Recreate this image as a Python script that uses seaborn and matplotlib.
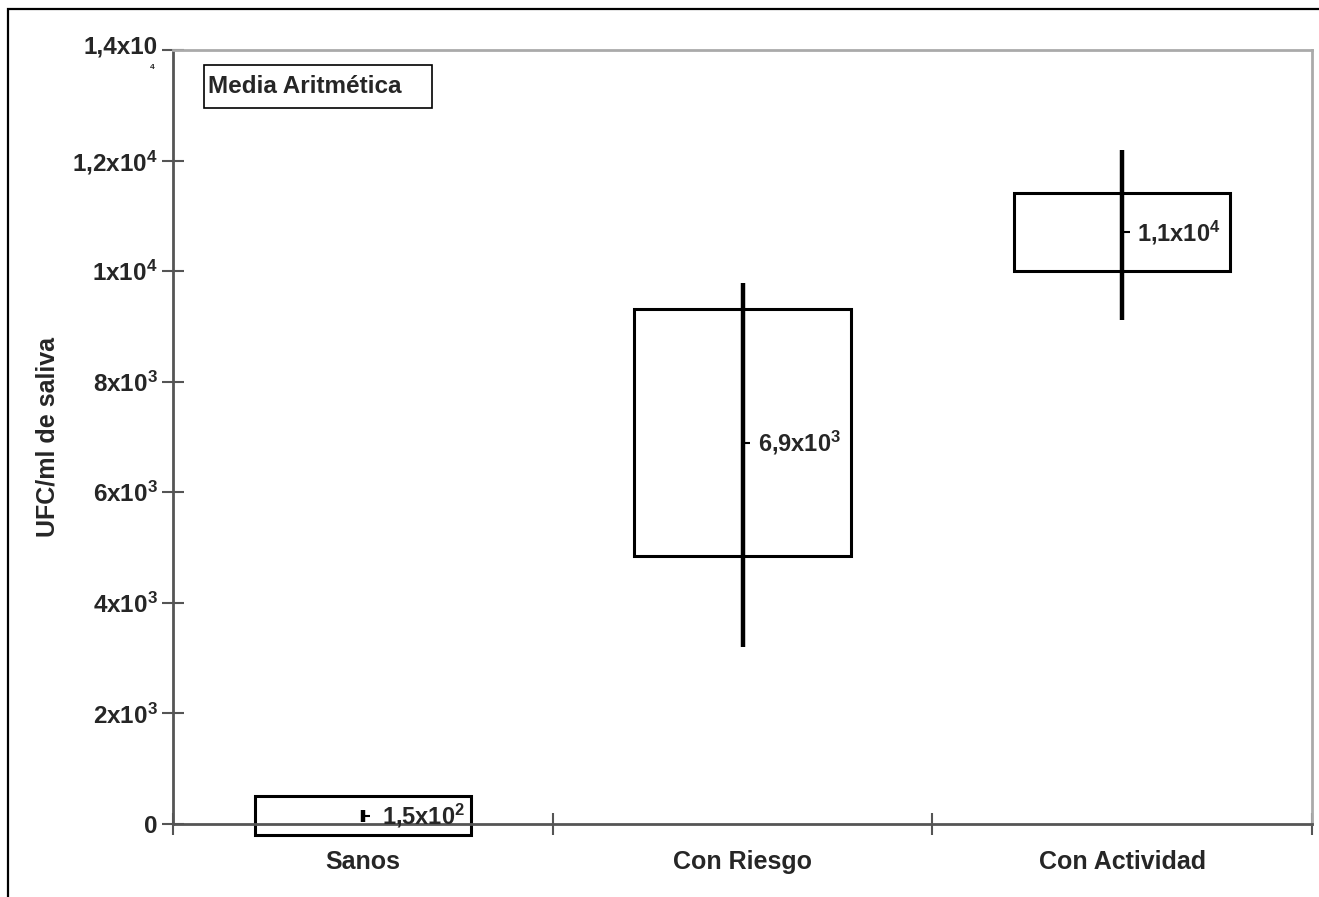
import numpy as np
import matplotlib
matplotlib.use("Agg")
import matplotlib.pyplot as plt
from matplotlib.patches import Rectangle
from matplotlib.transforms import ScaledTranslation
import seaborn as sns

categories = ["Sanos", "Con Riesgo", "Con Actividad"]
means = [150, 6900, 10700]
box_low = [-200, 4850, 10000]
box_high = [510, 9310, 11410]
range_low = [40, 3200, 9110]
range_high = [250, 9780, 12190]
value_labels = ["1,5x10$^{2}$", "6,9x10$^{3}$", "1,1x10$^{4}$"]
ytick_values = [0, 2000, 4000, 6000, 8000, 10000, 12000, 14000]
ytick_labels = ["0", "2x10$^{3}$", "4x10$^{3}$", "6x10$^{3}$", "8x10$^{3}$",
                "1x10$^{4}$", "1,2x10$^{4}$", "1,4x10"]
ylabel = "UFC/ml de saliva"
legend_text = "Media Aritmética"

sns.set_style("white")
plt.rcParams["font.family"] = ["Liberation Sans", "DejaVu Sans"]
plt.rcParams["font.weight"] = "bold"
plt.rcParams["mathtext.fontset"] = "custom"
plt.rcParams["mathtext.rm"] = "Liberation Sans"
plt.rcParams["mathtext.bf"] = "Liberation Sans:bold"
plt.rcParams["mathtext.default"] = "rm"

fig = plt.figure(figsize=(13.19, 8.97), dpi=100)
ax = fig.add_axes([173/1319, 1-824/897, (1312-173)/1319, (824-50)/897])

heights = [h - l for h, l in zip(box_high, box_low)]
sns.barplot(x=categories, y=heights, bottom=box_low, fill=False, color="black",
            linewidth=2.2, width=0.57, errorbar=None, ax=ax)
for p in ax.patches:
    p.set_clip_on(False)

xs = np.arange(len(categories))
ax.vlines(xs, range_low, range_high, color="black", linewidth=3.2, zorder=4)
ax.plot(xs + 0.012, means, linestyle="none", marker="_", markersize=5,
        markeredgewidth=1.5, color="black", zorder=5)
offsets = [14, 11, 11]
for x, m, lab, off in zip(xs, means, value_labels, offsets):
    ax.annotate(lab, (x, m), xytext=(off, 0), textcoords="offset points",
                ha="left", va="center", fontsize=17, fontweight="bold",
                annotation_clip=False, zorder=6)

ax.set_xlim(-0.5, len(categories) - 0.5)
ax.set_ylim(0, 14000)
ax.set_yticks(ytick_values)
ax.set_yticklabels(ytick_labels, fontsize=17.5, fontweight="bold")
ax.set_xticks(xs)
ax.set_xticklabels(categories, fontsize=18, fontweight="bold")
ax.set_xticks(np.arange(len(categories) + 1) - 0.5, minor=True)
ax.tick_params(axis="both", which="both", left=True, bottom=True)
ax.tick_params(axis="x", which="major", length=0, pad=19)
ax.tick_params(axis="x", which="minor", length=16, direction="inout",
               width=1.5, color="#555555")
ax.tick_params(axis="y", which="major", length=16, direction="inout",
               width=1.5, color="#555555", pad=3)
ax.set_xlabel("")
ax.set_ylabel(ylabel, fontsize=18, fontweight="bold", labelpad=9)

top_lab = ax.yaxis.get_major_ticks()[-1].label1
top_lab.set_transform(top_lab.get_transform() +
                      ScaledTranslation(0, 4/72, fig.dpi_scale_trans))

for s in ["left", "bottom"]:
    ax.spines[s].set_color("#555555")
    ax.spines[s].set_linewidth(2)
for s in ["top", "right"]:
    ax.spines[s].set_color("#aaaaaa")
    ax.spines[s].set_linewidth(2)

# tiny stray exponent under the top tick label, as in the original
ax.text(-0.0184, 0.978, "4", transform=ax.transAxes, fontsize=6,
        fontweight="bold", ha="center", va="center")

ax.add_patch(Rectangle((0.027, 0.925), 0.2, 0.056, transform=ax.transAxes,
                       fill=False, edgecolor="black", linewidth=1.2))
ax.text(0.031, 0.953, legend_text, transform=ax.transAxes, fontsize=17.5,
        fontweight="bold", ha="left", va="center")

fig.add_artist(Rectangle((8/1319, -0.2), 1.5, 1 - 9/897 + 0.2,
                         transform=fig.transFigure, fill=False,
                         edgecolor="black", linewidth=1.6))

fig.savefig("out.png", dpi=100, facecolor="white")
